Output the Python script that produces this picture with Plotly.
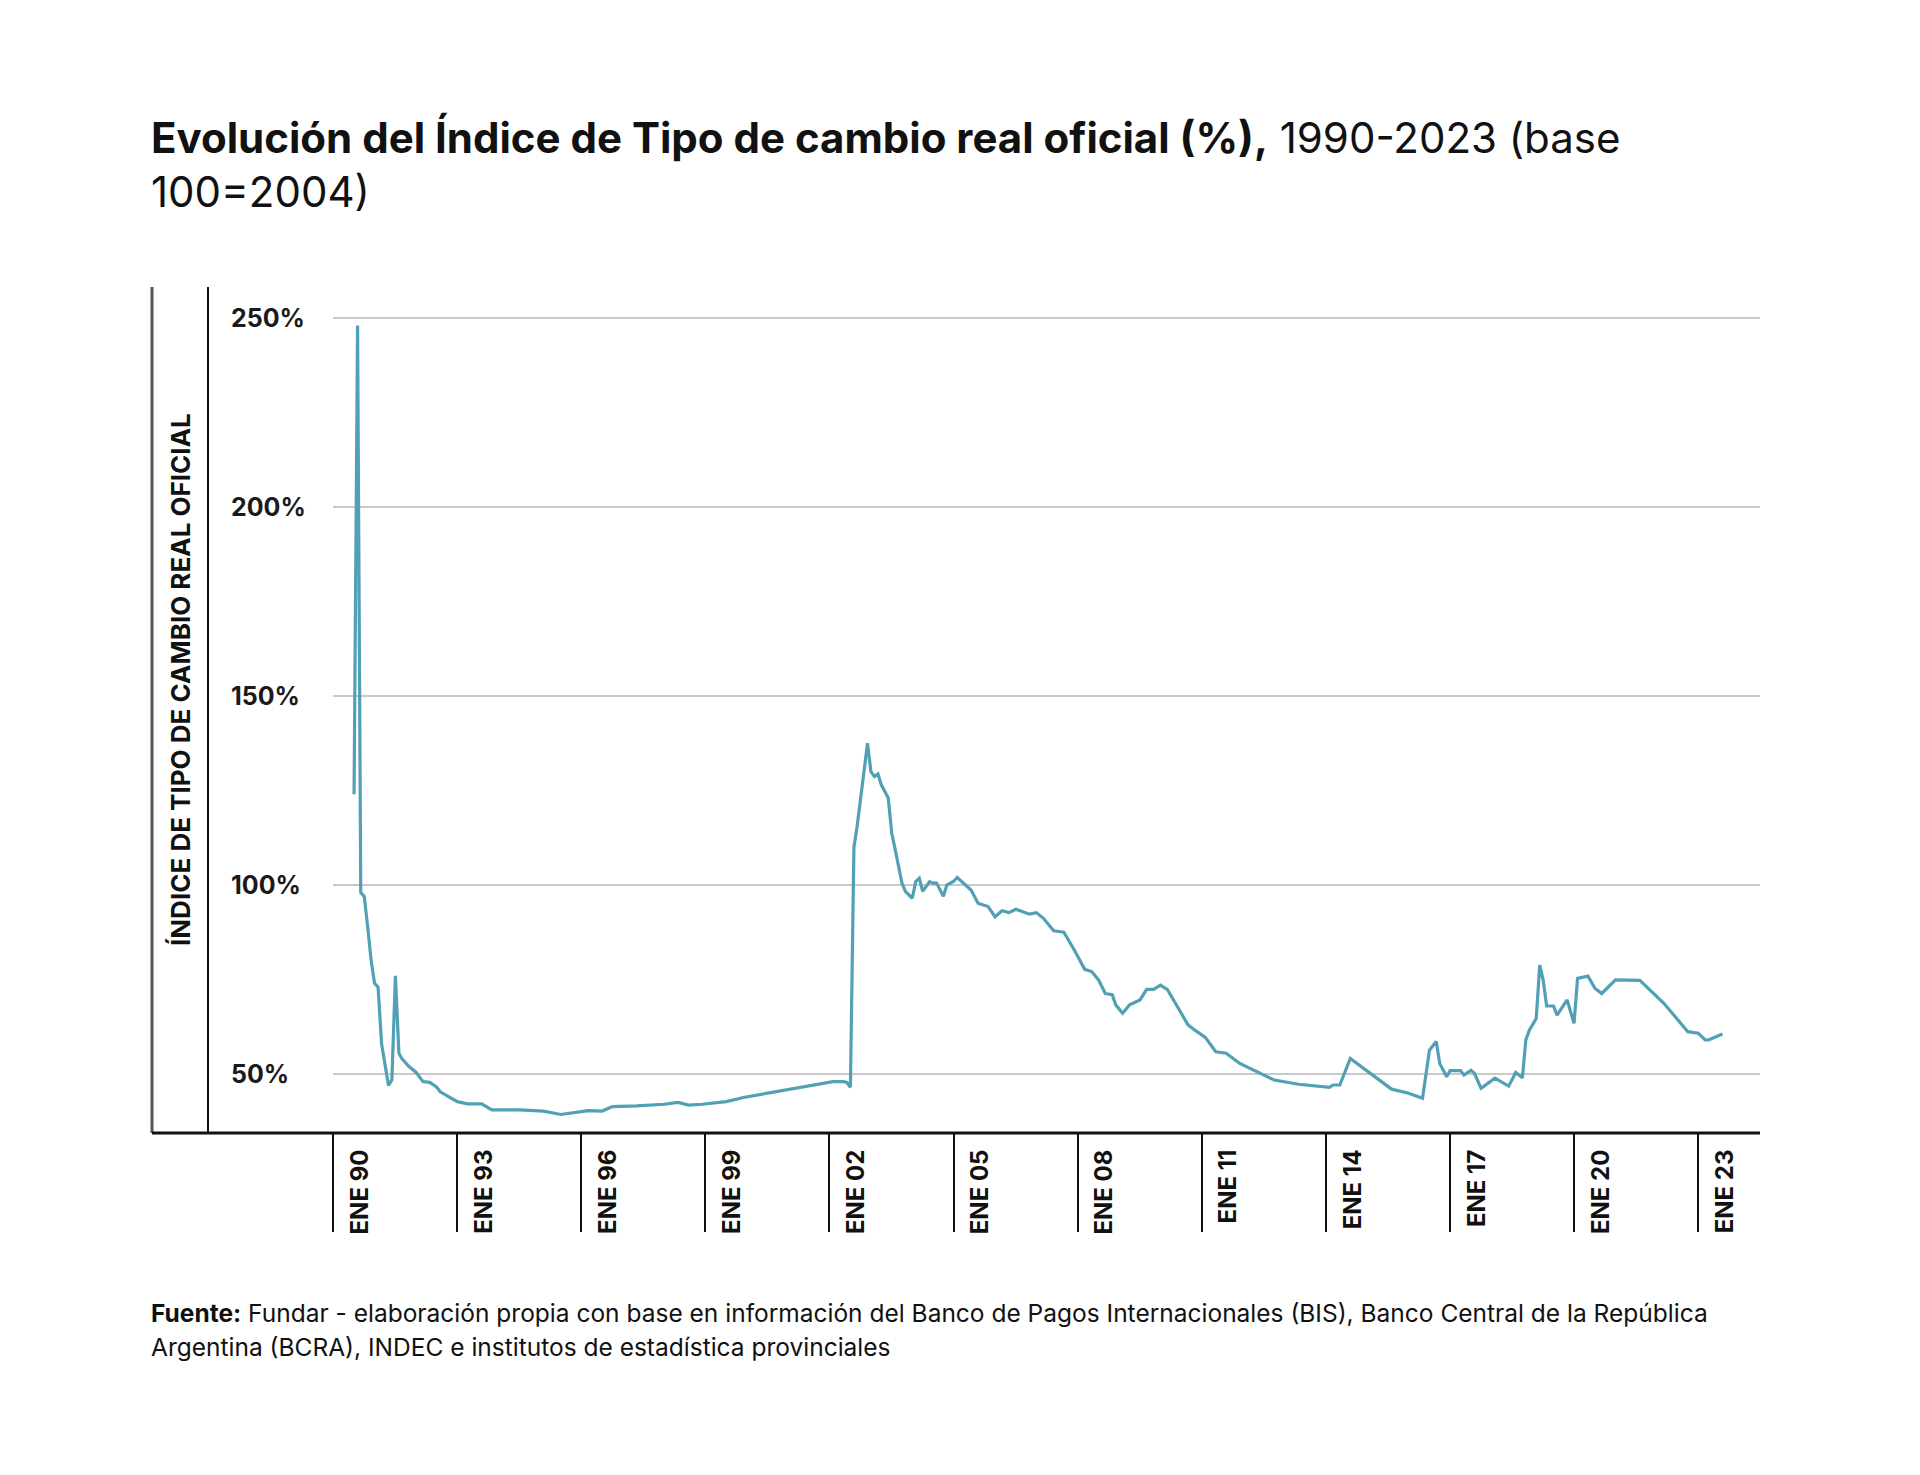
import plotly.graph_objects as go
import pandas as pd

# ---- data ----
dates = [
    "1990-01", "1990-02", "1990-03", "1990-04", "1990-05", "1990-06", "1990-07", "1990-08",
    "1990-09", "1990-10", "1990-11", "1990-12", "1991-01", "1991-02", "1991-03", "1991-05",
    "1991-07", "1991-09", "1991-11", "1992-01", "1992-02", "1992-07", "1992-10", "1993-02",
    "1993-05", "1994-01", "1994-08", "1995-01", "1995-06", "1995-09", "1996-01", "1996-04",
    "1996-11", "1997-07", "1997-11", "1998-02", "1998-06", "1999-01", "1999-06", "2000-02",
    "2000-06", "2000-10", "2001-03", "2001-08", "2001-11", "2001-12", "2002-01", "2002-02",
    "2002-03", "2002-06", "2002-07", "2002-08", "2002-09", "2002-10", "2002-12", "2003-01",
    "2003-02", "2003-03", "2003-04", "2003-05", "2003-07", "2003-08", "2003-09", "2003-10",
    "2003-12", "2004-01", "2004-02", "2004-04", "2004-05", "2004-07", "2004-08", "2004-12",
    "2005-02", "2005-05", "2005-07", "2005-09", "2005-11", "2006-01", "2006-05", "2006-07",
    "2006-09", "2006-12", "2007-03", "2007-06", "2007-09", "2007-11", "2008-01", "2008-03",
    "2008-05", "2008-06", "2008-08", "2008-10", "2009-01", "2009-03", "2009-05", "2009-07",
    "2009-09", "2009-11", "2010-03", "2010-05", "2010-08", "2010-11", "2011-02", "2011-06",
    "2011-11", "2012-04", "2012-11", "2013-08", "2013-09", "2013-11", "2014-02", "2014-06",
    "2015-02", "2015-07", "2015-11", "2016-01", "2016-03", "2016-04", "2016-06", "2016-07",
    "2016-10", "2016-11", "2017-01", "2017-02", "2017-04", "2017-08", "2017-12", "2018-02",
    "2018-04", "2018-05", "2018-06", "2018-08", "2018-09", "2018-10", "2018-11", "2019-01",
    "2019-02", "2019-05", "2019-07", "2019-08", "2019-11", "2020-01", "2020-03", "2020-07",
    "2021-02", "2021-09", "2022-04", "2022-07", "2022-09", "2022-10", "2023-02",
]
values = [
    124.0, 248.0, 98.0, 97.0, 89.0, 80.0, 74.0, 73.0,
    58.0, 52.0, 47.0, 48.5, 76.0, 55.5, 54.0, 52.0,
    50.5, 48.0, 47.8, 46.5, 45.3, 42.7, 42.1, 42.1,
    40.5, 40.5, 40.2, 39.3, 40.0, 40.3, 40.2, 41.4,
    41.6, 42.0, 42.5, 41.8, 42.0, 42.7, 43.8, 45.1,
    45.8, 46.3, 47.2, 48.0, 48.0, 47.8, 46.5, 110.0,
    115.5, 137.5, 130.0, 128.7, 129.4, 126.5, 123.0, 113.7,
    109.3, 104.9, 100.5, 98.3, 96.5, 100.9, 101.8, 98.3,
    100.9, 100.5, 100.5, 97.0, 100.0, 101.0, 102.0, 98.7,
    95.2, 94.3, 91.6, 93.2, 92.7, 93.6, 92.3, 92.7,
    91.2, 87.9, 87.5, 82.8, 77.7, 77.1, 74.9, 71.3,
    71.0, 68.3, 66.1, 68.3, 69.6, 72.4, 72.4, 73.5,
    72.3, 69.2, 63.0, 61.6, 59.7, 55.9, 55.5, 52.8,
    50.6, 48.4, 47.3, 46.5, 47.1, 47.1, 54.1, 51.5,
    46.0, 44.9, 43.6, 56.3, 58.6, 52.8, 49.3, 50.9,
    50.9, 49.7, 51.0, 50.2, 46.2, 48.9, 46.8, 50.4,
    49.0, 59.0, 61.6, 64.7, 78.8, 74.9, 68.0, 68.0,
    65.6, 69.6, 63.4, 75.3, 75.9, 72.7, 71.3, 74.9,
    74.8, 68.7, 61.2, 60.8, 59.0, 59.0, 60.6,
]

tick_years = [1990, 1993, 1996, 1999, 2002, 2005, 2008, 2011, 2014, 2017, 2020, 2023]
tick_labels = ["ENE 90", "ENE 93", "ENE 96", "ENE 99", "ENE 02", "ENE 05",
               "ENE 08", "ENE 11", "ENE 14", "ENE 17", "ENE 20", "ENE 23"]
y_ticks = [50, 100, 150, 200, 250]
y_tick_labels = ["50%", "100%", "150%", "200%", "250%"]

title_bold = "Evolución del Índice de Tipo de cambio real oficial (%),"
title_rest = " 1990-2023 (base"
title_line2 = "100=2004)"
y_title = "ÍNDICE DE TIPO DE CAMBIO REAL OFICIAL"
source_1 = "<b>Fuente:</b> Fundar - elaboración propia con base en información del Banco de Pagos Internacionales (BIS), Banco Central de la República"
source_2 = "Argentina (BCRA), INDEC e institutos de estadística provinciales"

# ---- styling ----
FONT = "Inter"
LINE_COLOR = "#52a0b5"
GRID_COLOR = "#c9c9c9"

x_dates = pd.to_datetime(dates)
tickline_pos = [pd.Timestamp(f"{y}-01-01") - pd.Timedelta(days=185) for y in tick_years]
x_range = [pd.Timestamp("1989-06-29"), pd.Timestamp("2023-12-29")]
y_range = [34.4, 258.2]

OFF = 8  # page body margin
W, H = 1904, 1459
L = 152 - OFF
R = W - (1760 - OFF)
T = 287 - OFF
B = H - (1133 - OFF)
PW = W - L - R
PH = H - T - B


def px(xr):
    return (xr - OFF - L) / PW


def py(yr):
    return (H - B - (yr - OFF)) / PH


fig = go.Figure()
fig.add_trace(go.Scatter(
    x=x_dates, y=values, mode="lines",
    line=dict(color=LINE_COLOR, width=3.2),
    showlegend=False, hoverinfo="x+y",
))

fig.update_layout(
    width=W, height=H,
    margin=dict(l=L, r=R, t=T, b=B, pad=0),
    paper_bgcolor="white", plot_bgcolor="white",
    font=dict(family=FONT, color="#1a1a1a"),
    xaxis=dict(
        domain=[px(333), 1], type="date", range=x_range,
        tickvals=tickline_pos, ticktext=tick_labels, tickangle=-90,
        ticks="outside", ticklen=98, tickwidth=2, tickcolor="#111111",
        ticklabelshift=27, ticklabelstandoff=-92,
        tickfont=dict(family=FONT, size=24, color="#111111", weight=700),
        showgrid=False, showline=False, zeroline=False,
    ),
    yaxis=dict(
        domain=[0, 1], range=y_range, tickvals=y_ticks, ticktext=y_tick_labels,
        ticklabelposition="inside", ticks="", ticklabelstandoff=-(333 - 228),
        tickfont=dict(family=FONT, size=25, color="#1a1a1a", weight=700),
        showgrid=True, gridcolor=GRID_COLOR, gridwidth=2, zeroline=False,
        showline=False,
    ),
    shapes=[
        dict(type="line", xref="paper", yref="paper", x0=0, x1=0, y0=0, y1=1,
             line=dict(color="#555555", width=3)),
        dict(type="line", xref="paper", yref="paper", x0=px(208), x1=px(208), y0=0, y1=1,
             line=dict(color="#111111", width=2)),
        dict(type="line", xref="paper", yref="paper", x0=0, x1=1, y0=0, y1=0,
             line=dict(color="#111111", width=3)),
    ],
    annotations=[
        dict(xref="paper", yref="paper", x=px(149), y=py(137), xanchor="left",
             yanchor="middle", showarrow=False,
             text=f"<b>{title_bold}</b>{title_rest}",
             font=dict(family=FONT, size=42, color="#111111")),
        dict(xref="paper", yref="paper", x=px(149), y=py(192), xanchor="left",
             yanchor="middle", showarrow=False, text=title_line2,
             font=dict(family=FONT, size=42, color="#111111")),
        dict(xref="paper", yref="paper", x=px(180), y=py(680), xanchor="center",
             yanchor="middle", showarrow=False, textangle=-90, text=f"<b>{y_title}</b>",
             font=dict(family=FONT, size=26, color="#111111")),
        dict(xref="paper", yref="paper", x=px(149), y=py(1313), xanchor="left",
             yanchor="middle", showarrow=False, text=source_1,
             font=dict(family=FONT, size=24.5, color="#111111")),
        dict(xref="paper", yref="paper", x=px(149), y=py(1347), xanchor="left",
             yanchor="middle", showarrow=False, text=source_2,
             font=dict(family=FONT, size=24.5, color="#111111")),
    ],
)

fig.write_html("out.html")
